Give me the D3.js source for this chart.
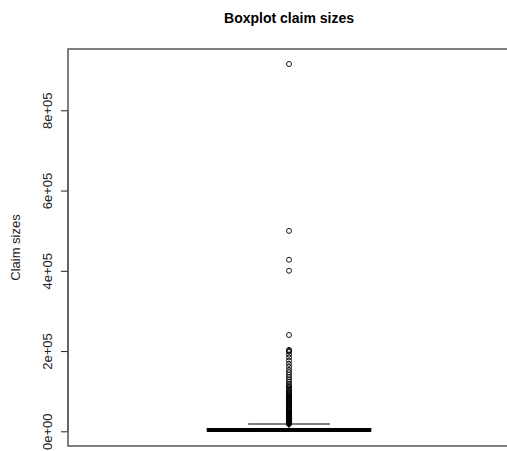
<!DOCTYPE html>
<html>
<head>
<meta charset="utf-8">
<script src="https://d3js.org/d3.v7.min.js"></script>
<style>
  body { margin: 0; background: #fff; }
  svg { font-family: "Liberation Sans", Arial, sans-serif; }
</style>
</head>
<body>
<div id="chart"></div>
<script>
// box statistics (claim sizes)
var boxStats = [0, 700, 2000, 7000, 18200]; // lower whisker, Q1, median, Q3, upper whisker
// outliers above upper whisker
var outliers = [915400, 499500, 427500, 400200, 240000, 203000, 200500, 198000, 191000, 184000,
  176000, 168000, 161000, 153000, 147000, 141000, 135000, 129000, 124000, 119000,
  115000, 111000, 107000, 104000, 101000, 98000, 95000, 92500, 90000, 88000,
  86000, 84000, 82000, 80000, 78000, 76000, 74000, 72000, 70000, 68000,
  66000, 64000, 61000, 58000, 56000, 54000, 52000, 50000, 48000, 46000,
  45000, 44000, 42500, 41000, 40000, 39000, 38000, 37000, 36000, 35000,
  34000, 33000, 32000, 31000, 30000, 29000, 28500, 28000, 27000, 26500,
  26000, 25000, 24500, 24000, 23000, 22500, 22000, 21500, 21000, 20500,
  20000, 19500, 19000, 18600];
var yTicks = [0, 200000, 400000, 600000, 800000];

var width = 507, height = 451;
var margin = {top: 49, right: -3, bottom: 5, left: 68};

var svg = d3.select("#chart").append("svg")
  .attr("width", width)
  .attr("height", height);

var y = d3.scaleLinear()
  .domain([-36600, 952800])
  .range([height - margin.bottom, margin.top]);

var x = d3.scaleLinear()
  .domain([0.46, 1.54])
  .range([margin.left, width - margin.right]);

// title
svg.append("text")
  .attr("x", 289)
  .attr("y", 23)
  .attr("text-anchor", "middle")
  .attr("font-size", "14px")
  .attr("font-weight", "bold")
  .text("Boxplot claim sizes");

// y label
svg.append("text")
  .attr("transform", "translate(20," + ((margin.top + height - margin.bottom) / 2) + ") rotate(-90)")
  .attr("text-anchor", "middle")
  .attr("font-size", "13px")
  .attr("fill", "#222")
  .text("Claim sizes");

// y axis
var yAxis = svg.append("g")
  .attr("transform", "translate(" + margin.left + ",0)")
  .call(d3.axisLeft(y).tickValues(yTicks).tickSize(7).tickSizeOuter(0)
    .tickFormat(function(d) {
      return d3.format(".0e")(d).replace(/e([+-])(\d)$/, "e$10$2");
    }));
yAxis.select(".domain").remove();
yAxis.selectAll(".tick line").attr("stroke", "#222");
yAxis.selectAll(".tick text")
  .attr("transform", "rotate(-90)")
  .attr("x", 0)
  .attr("y", -16)
  .attr("dy", 0)
  .attr("text-anchor", "middle")
  .attr("font-size", "13px")
  .attr("font-family", "Liberation Sans, Arial, sans-serif")
  .attr("fill", "#222");
svg.append("line")
  .attr("x1", margin.left).attr("x2", margin.left)
  .attr("y1", y(yTicks[0])).attr("y2", y(yTicks[yTicks.length - 1]))
  .attr("stroke", "#222");

// box
var g = svg.append("g");
var boxL = x(0.8), boxR = x(1.2), cx = x(1);
var capL = x(0.9), capR = x(1.1);

// whiskers
g.append("line")
  .attr("x1", cx).attr("x2", cx)
  .attr("y1", y(boxStats[3])).attr("y2", y(boxStats[4]))
  .attr("stroke", "#000").attr("stroke-dasharray", "4,3");
g.append("line")
  .attr("x1", capL).attr("x2", capR)
  .attr("y1", y(boxStats[4])).attr("y2", y(boxStats[4]))
  .attr("stroke", "#000");
g.append("line")
  .attr("x1", capL).attr("x2", capR)
  .attr("y1", y(boxStats[0])).attr("y2", y(boxStats[0]))
  .attr("stroke", "#000");

g.append("rect")
  .attr("x", boxL)
  .attr("y", y(boxStats[3]))
  .attr("width", boxR - boxL)
  .attr("height", y(boxStats[1]) - y(boxStats[3]))
  .attr("fill", "none")
  .attr("stroke", "#000");
g.append("line")
  .attr("x1", boxL).attr("x2", boxR)
  .attr("y1", y(boxStats[2])).attr("y2", y(boxStats[2]))
  .attr("stroke", "#000").attr("stroke-width", 3);

// outliers
g.selectAll("circle")
  .data(outliers)
  .enter().append("circle")
  .attr("cx", cx)
  .attr("cy", function(d) { return y(d); })
  .attr("r", 2.5)
  .attr("fill", "none")
  .attr("stroke", "#000")
  .attr("stroke-width", 0.9);

// plot frame
svg.append("rect")
  .attr("x", margin.left)
  .attr("y", margin.top)
  .attr("width", width - margin.right - margin.left)
  .attr("height", height - margin.bottom - margin.top)
  .attr("fill", "none")
  .attr("stroke", "#555")
  .attr("stroke-width", 1.5);
</script>
</body>
</html>
